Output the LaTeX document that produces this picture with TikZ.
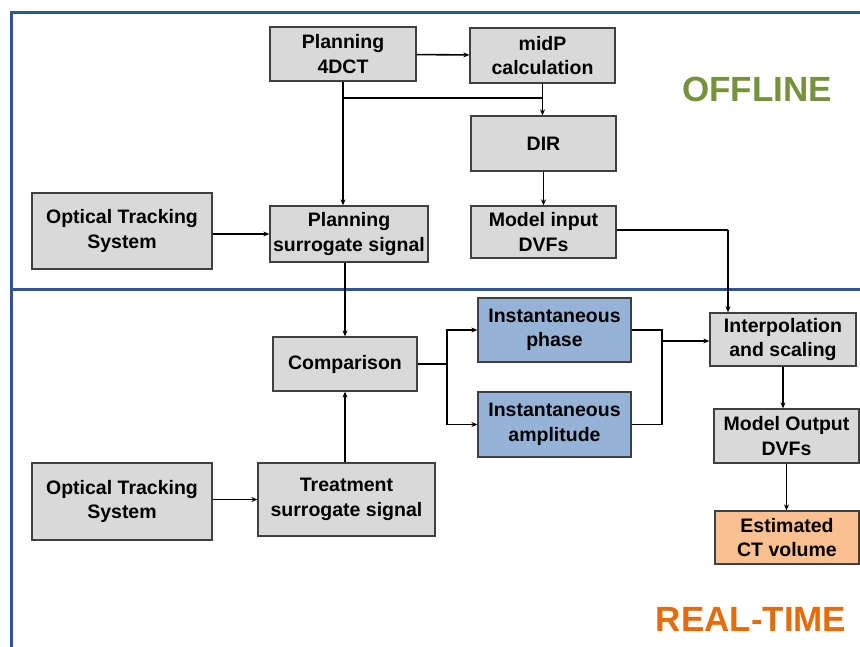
\documentclass[tikz,border=0pt]{standalone}
\usepackage{fontspec}
\setmainfont{Liberation Sans}
\usetikzlibrary{arrows.meta}
\definecolor{frameblue}{RGB}{47,85,151}
\definecolor{boxgray}{RGB}{217,217,217}
\definecolor{boxline}{RGB}{64,64,64}
\definecolor{boxblue}{RGB}{149,179,215}
\definecolor{boxorange}{RGB}{250,192,144}
\definecolor{offgreen}{RGB}{118,146,60}
\definecolor{rtorange}{RGB}{228,108,10}
\tikzset{
  box/.style={draw=boxline, line width=1.3pt, fill=boxgray, align=center, inner sep=0pt,
    font=\fontsize{19.5}{24.5}\selectfont\bfseries},
  conn/.style={line width=1.6pt, black},
  arr/.style={conn, -{Stealth[length=6pt,width=5pt]}},
  frm/.style={line width=3pt, frameblue}
}
\begin{document}
\begin{tikzpicture}[x=1pt,y=-1pt]
\useasboundingbox (0,0) rectangle (860,647);
% frame
\draw[frm] (11,647) -- (11,13) -- (860,13);
\draw[frm] (11,290) -- (860,290);
% labels
\node[text=offgreen, font=\fontsize{35}{40}\selectfont\bfseries] (off) at (757,89) {OFFLINE};
\node[text=rtorange, font=\fontsize{35}{40}\selectfont\bfseries] (rt) at (751,619) {REAL-TIME};
% boxes
\node[box, minimum width=146pt, minimum height=54pt] (p4d) at (343,54) {Planning\\4DCT};
\node[box, minimum width=145pt, minimum height=55pt] (midp) at (542.5,55.5) {midP\\calculation};
\node[box, minimum width=145pt, minimum height=55pt] (dir) at (543.5,143.5) {DIR};
\node[box, minimum width=145pt, minimum height=52pt] (mid) at (543.5,232) {Model input\\DVFs};
\node[box, minimum width=180pt, minimum height=76pt] (ots1) at (122,231) {Optical Tracking\\System};
\node[box, minimum width=158pt, minimum height=56pt] (pss) at (349,234) {Planning\\surrogate signal};
\node[box, minimum width=144pt, minimum height=54pt] (comp) at (345,364) {Comparison};
\node[box, minimum width=180pt, minimum height=77pt] (ots2) at (122,501.5) {Optical Tracking\\System};
\node[box, minimum width=177pt, minimum height=73pt] (tss) at (346.5,499.5) {Treatment\\surrogate signal};
\node[box, fill=boxblue, minimum width=153pt, minimum height=64pt] (phase) at (554.5,330) {Instantaneous\\phase};
\node[box, fill=boxblue, minimum width=153pt, minimum height=65pt] (amp) at (554.5,424.5) {Instantaneous\\amplitude};
\node[box, minimum width=146pt, minimum height=53pt] (interp) at (783,339.5) {Interpolation\\and scaling};
\node[box, minimum width=145pt, minimum height=54pt] (mod) at (786.5,436) {Model Output\\DVFs};
\node[box, fill=boxorange, minimum width=144pt, minimum height=53pt] (est) at (787,537.5) {Estimated\\CT volume};
% junctions
\coordinate (j1) at (343,98);
\coordinate (j2) at (542.5,98);
\coordinate (s1) at (447,364);
\coordinate (m1) at (662,341);
\coordinate (t1) at (728,230);
% connectors
\draw[arr] (p4d) -- (midp);
\draw[arr] (p4d.south) -- (p4d.south |- pss.north);
\draw[conn] (j1) -- (j2);
\draw[arr] (midp.south) -- (midp.south |- dir.north);
\draw[arr] (dir.south) -- (dir.south |- mid.north);
\draw[arr] (ots1.east |- pss.west) -- (pss.west);
\draw[conn] (mid.east |- t1) -- (t1);
\draw[arr] (t1) -- (t1 |- interp.north);
\draw[arr] (comp.north |- pss.south) -- (comp.north);
\draw[arr] (comp.south |- tss.north) -- (comp.south);
\draw[arr] (ots2.east |- tss.west) -- (tss.west);
\draw[conn] (comp.east) -- (s1);
\draw[arr] (s1) |- (phase.west);
\draw[arr] (s1) |- (amp.west);
\draw[conn] (phase.east) -| (m1);
\draw[conn] (amp.east) -| (m1);
\draw[arr] (m1) -- (m1 -| interp.west);
\draw[arr] (interp.south) -- (interp.south |- mod.north);
\draw[arr] (mod.south) -- (mod.south |- est.north);
\end{tikzpicture}
\end{document}
